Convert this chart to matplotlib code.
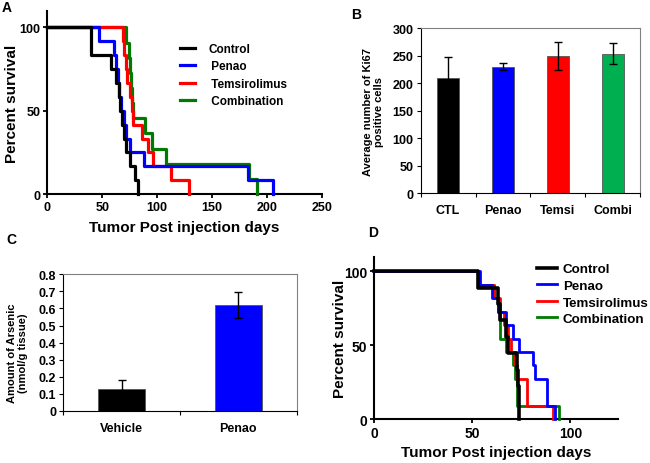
import matplotlib
matplotlib.use("Agg")
import matplotlib.pyplot as plt

plt.rcParams['font.family'] = ['Liberation Sans', 'DejaVu Sans']
plt.rcParams['font.weight'] = 'bold'

# --- data ---------------------------------------------------------------
groups = ["Control", "Penao", "Temsirolimus", "Combination"]
line_colors = ["black", "#0000ff", "#ff0000", "#007a00"]

# panel A: Kaplan-Meier steps (day, percent surviving after the step)
a_ctl_days = [0, 40, 58, 63, 65, 66, 68, 70, 72, 75, 80, 83]
a_ctl_surv = [100, 83.3, 75, 66.7, 58.3, 50, 41.7, 33.3, 25, 16.7, 8.3, 0]
a_pen_days = [0, 47, 61, 63, 64, 65, 67, 70, 72, 75, 88, 183, 206]
a_pen_surv = [100, 91.7, 83.3, 75, 66.7, 58.3, 50, 41.7, 33.3, 25, 16.7, 8.3, 0]
a_tem_days = [0, 69, 70, 72, 73, 75, 77, 78, 86, 92, 96, 113, 129]
a_tem_surv = [100, 91.7, 83.3, 75, 66.7, 58.3, 50, 41.7, 33.3, 25, 16.7, 8.3, 0]
a_com_days = [0, 72, 74, 75, 76, 77, 78, 89, 95, 108, 184, 191]
a_com_surv = [100, 90.9, 81.8, 72.7, 63.6, 54.5, 45.5, 36.4, 27.3, 18.2, 9.1, 0]

# panel B: Ki67 positive cells
b_labels = ["CTL", "Penao", "Temsi", "Combi"]
b_means = [210, 230, 249, 253]
b_errs = [38, 6, 25, 19]
b_colors = ["black", "#0000ff", "#ff0000", "#00b050"]

# panel C: arsenic in tissue
c_labels = ["Vehicle", "Penao"]
c_means = [0.13, 0.62]
c_errs = [0.05, 0.075]
c_colors = ["black", "#0000ff"]

# panel D: Kaplan-Meier steps
d_ctl_days = [0, 53, 63, 64, 67, 68, 73, 73.5, 74]
d_ctl_surv = [100, 88.9, 77.8, 66.7, 55.6, 44.4, 33.3, 22.2, 0]
d_pen_days = [0, 54, 60, 63, 67, 71, 74, 81, 82, 88, 92]
d_pen_surv = [100, 90.9, 81.8, 72.7, 63.6, 54.5, 45.5, 36.4, 27.3, 9.1, 0]
d_tem_days = [0, 53, 61, 64, 66, 68, 70, 72, 73, 78, 91]
d_tem_surv = [100, 90.9, 81.8, 72.7, 63.6, 54.5, 45.5, 36.4, 27.3, 9.1, 0]
d_com_days = [0, 53, 61, 63, 64, 67, 71, 72, 73, 94]
d_com_surv = [100, 90.9, 81.8, 72.7, 54.5, 45.5, 36.4, 27.3, 9.1, 0]

fig = plt.figure(figsize=(6.5, 4.64), dpi=100)


def km_axes(ax, xmax, xticks, ymax):
    ax.set_xlim(0, xmax)
    ax.set_ylim(0, ymax)
    ax.set_xticks(xticks)
    ax.set_yticks([0, 50, 100])
    for s in ["top", "right"]:
        ax.spines[s].set_visible(False)
    for s in ["left", "bottom"]:
        ax.spines[s].set_linewidth(1.5)
    ax.tick_params(direction="out", length=3, width=1.3, labelsize=10, pad=2)


# ---- A ----
axA = fig.add_axes([0.0728, 0.5797, 0.4222, 0.395])
a_sets = [(a_ctl_days, a_ctl_surv), (a_pen_days, a_pen_surv),
          (a_tem_days, a_tem_surv), (a_com_days, a_com_surv)]
# control ends up on top, combination underneath
for i, ((d, s), c, g) in enumerate(zip(a_sets, line_colors, groups)):
    axA.step(d, s, where="post", color=c, lw=2.3, label=g, clip_on=False,
             zorder=6 - i)
km_axes(axA, 250, [0, 50, 100, 150, 200, 250], 110)
axA.tick_params(labelsize=9)
axA.set_ylabel("Percent survival", fontsize=11, fontweight="bold")
axA.yaxis.set_label_coords(-0.105, 0.5)
axA.set_xlabel("Tumor Post injection days", fontsize=11, fontweight="bold")
axA.xaxis.set_label_coords(0.5, -0.14)
axA.legend(["Control", " Penao", " Temsirolimus", " Combination"],
           loc="upper left", bbox_to_anchor=(0.277, 0.905),
           bbox_transform=fig.transFigure, frameon=False, fontsize=8.5,
           handlelength=1.3, handletextpad=1.1, labelspacing=0.45,
           borderpad=0, borderaxespad=0)

# ---- B ----
axB = fig.add_axes([0.6472, 0.5812, 0.3374, 0.3563])
xb = range(len(b_labels))
axB.bar(xb, b_means, width=0.4, color=b_colors, edgecolor="#555555", lw=0.6)
axB.errorbar(xb, b_means, yerr=b_errs, fmt="none", ecolor="black",
             elinewidth=1, capsize=3, capthick=1)
axB.set_xlim(-0.5, 3.5)
axB.set_ylim(0, 300)
axB.set_yticks(range(0, 301, 50))
axB.set_xticks([-0.5, 0.5, 1.5, 2.5, 3.5])
axB.set_xticklabels([])
axB.set_xticks(list(xb), minor=True)
axB.set_xticklabels(b_labels, minor=True)
axB.tick_params(axis="x", which="major", length=3, width=0.8, direction="out")
axB.tick_params(axis="x", which="minor", length=0, pad=8, labelsize=9)
axB.tick_params(axis="y", length=3, width=0.8, labelsize=9, pad=2)
for s in ["top", "right"]:
    axB.spines[s].set_color("#808080")
axB.set_ylabel("Average number of Ki67\npositive cells", fontsize=8,
               fontweight="bold")
axB.yaxis.set_label_coords(-0.165, 0.5)

# ---- C ----
axC = fig.add_axes([0.0974, 0.1121, 0.3591, 0.2946])
xc = range(len(c_labels))
axC.bar(xc, c_means, width=0.4, color=c_colors, edgecolor="#555555", lw=0.6)
axC.errorbar(xc, c_means, yerr=c_errs, fmt="none", ecolor="black",
             elinewidth=1, capsize=3, capthick=1)
axC.set_xlim(-0.5, 1.5)
axC.set_ylim(0, 0.8)
axC.set_yticks([0, 0.1, 0.2, 0.3, 0.4, 0.5, 0.6, 0.7, 0.8])
axC.set_yticklabels(["0", "0.1", "0.2", "0.3", "0.4", "0.5", "0.6", "0.7", "0.8"])
axC.set_xticks([-0.5, 0.5, 1.5])
axC.set_xticklabels([])
axC.set_xticks(list(xc), minor=True)
axC.set_xticklabels(c_labels, minor=True)
axC.tick_params(axis="x", which="major", length=3, width=0.8, direction="out")
axC.tick_params(axis="x", which="minor", length=0, pad=8, labelsize=9)
axC.tick_params(axis="y", length=3, width=0.8, labelsize=9, pad=2)
for s in ["top", "right"]:
    axC.spines[s].set_color("#808080")
axC.set_ylabel("Amount of Arsenic\n(nmol/g tissue)", fontsize=8,
               fontweight="bold")
axC.yaxis.set_label_coords(-0.15, 0.43)

# ---- D ----
axD = fig.add_axes([0.5758, 0.0942, 0.3754, 0.3498])
d_sets = [(d_ctl_days, d_ctl_surv), (d_pen_days, d_pen_surv),
          (d_tem_days, d_tem_surv), (d_com_days, d_com_surv)]
for i, ((d, s), c, g) in enumerate(zip(d_sets, line_colors, groups)):
    axD.step(d, s, where="post", color=c, lw=2.6 if i == 0 else 2.0,
             label=g, clip_on=False, zorder=6 - i)
km_axes(axD, 124.5, [0, 50, 100], 109.5)
axD.set_ylabel("Percent survival", fontsize=11, fontweight="bold")
axD.yaxis.set_label_coords(-0.112, 0.5)
axD.set_xlabel("Tumor Post injection days", fontsize=11, fontweight="bold")
axD.xaxis.set_label_coords(0.5, -0.16)
axD.legend(loc="upper left", bbox_to_anchor=(0.826, 0.431),
           bbox_transform=fig.transFigure, frameon=False, fontsize=9.6,
           handlelength=1.5, handletextpad=0.45, labelspacing=0.32,
           borderpad=0, borderaxespad=0)

# panel letters
for txt, x, y in [("A", 0.003, 0.997), ("B", 0.54, 0.982),
                  ("C", 0.01, 0.497), ("D", 0.566, 0.513)]:
    fig.text(x, y, txt, fontsize=10, fontweight="bold", va="top")

fig.savefig("out.png", dpi=100)
